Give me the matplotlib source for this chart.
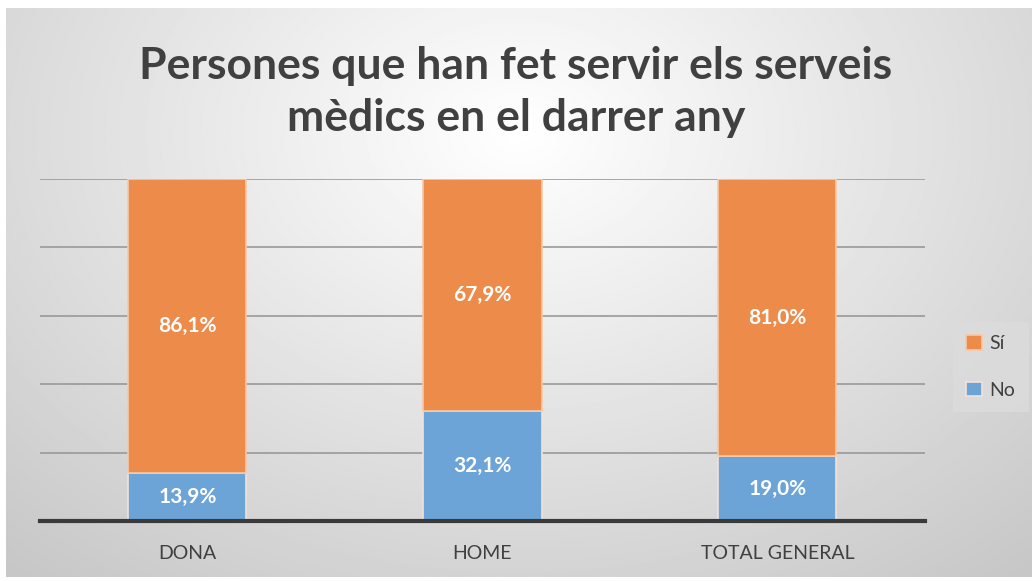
import numpy as np
import matplotlib
matplotlib.use("Agg")
import matplotlib.pyplot as plt

categories = ["DONA", "HOME", "TOTAL GENERAL"]
si_values = [86.1, 67.9, 81.0]
no_values = [13.9, 32.1, 19.0]
title = "Persones que han fet servir els serveis\nmèdics en el darrer any"

orange = "#ED8B4A"
blue = "#6CA4D7"
text_grey = "#404040"

plt.rcParams['font.family'] = ['Lato', 'DejaVu Sans']

fig = plt.figure(figsize=(10.32, 5.81), dpi=100)
fig.patch.set_facecolor("white")

# radial gradient background (chart area)
bg = fig.add_axes([6 / 1032, 4 / 581, 1026 / 1032, 569 / 581])
yy, xx = np.mgrid[0:1:300j, 0:1:600j]
dist = np.sqrt((xx - 0.5) ** 2 + ((yy - 0.22) * 0.75) ** 2)
shade = np.clip(1.0 - dist * 0.29, 0, 1)
bg.imshow(shade, cmap="gray", vmin=0, vmax=1, aspect="auto", extent=[0, 1, 1, 0])
bg.set_axis_off()

ax = fig.add_axes([40 / 1032, (581 - 521) / 581, 885 / 1032, (521 - 179) / 581])
ax.patch.set_alpha(0)

x = np.arange(len(categories))
width = 0.4
ax.bar(x, no_values, width, color=blue, edgecolor="#f3e2d6", linewidth=1.2, label="No", zorder=3)
ax.bar(x, si_values, width, bottom=no_values, color=orange, edgecolor="#f6c9a8", linewidth=1.2, label="Sí", zorder=3)

for i in range(len(categories)):
    ax.text(x[i], no_values[i] / 2, f"{no_values[i]:.1f}%".replace(".", ","),
            ha="center", va="center", color="white", fontsize=15, fontweight="bold", zorder=4)
    ax.text(x[i], no_values[i] + si_values[i] / 2, f"{si_values[i]:.1f}%".replace(".", ","),
            ha="center", va="center", color="white", fontsize=15, fontweight="bold", zorder=4)

ax.set_xlim(-0.5, 2.5)
ax.set_ylim(0, 100)
ax.set_yticks([0, 20, 40, 60, 80, 100])
ax.yaxis.grid(True, color="#999999", linewidth=1.2, zorder=0)
ax.tick_params(axis="y", left=False, labelleft=False)
ax.tick_params(axis="x", bottom=False, labelsize=14, labelcolor=text_grey, pad=14)
ax.set_xticks(x)
ax.set_xticklabels(categories)
for s in ["top", "left", "right"]:
    ax.spines[s].set_visible(False)
ax.spines["bottom"].set_color("#3a3a3a")
ax.spines["bottom"].set_linewidth(3)
ax.spines["bottom"].set_zorder(5)

handles, labels = ax.get_legend_handles_labels()
leg = fig.legend(handles[::-1], labels[::-1], loc="center", bbox_to_anchor=(991 / 1032, 1 - 367 / 581),
                 frameon=True, fontsize=14, labelspacing=1.5, handlelength=0.8, handleheight=0.8,
                 handletextpad=0.4, borderpad=0.7, borderaxespad=0, fancybox=False)
leg.get_frame().set_facecolor("#dcdcdc")
leg.get_frame().set_edgecolor("none")
for t in leg.get_texts():
    t.set_color(text_grey)

fig.text(0.5, 1 - 92 / 581, title, ha="center", va="center", fontsize=32, fontweight="bold",
         color=text_grey, linespacing=1.35)

fig.savefig("out.png", dpi=100)
